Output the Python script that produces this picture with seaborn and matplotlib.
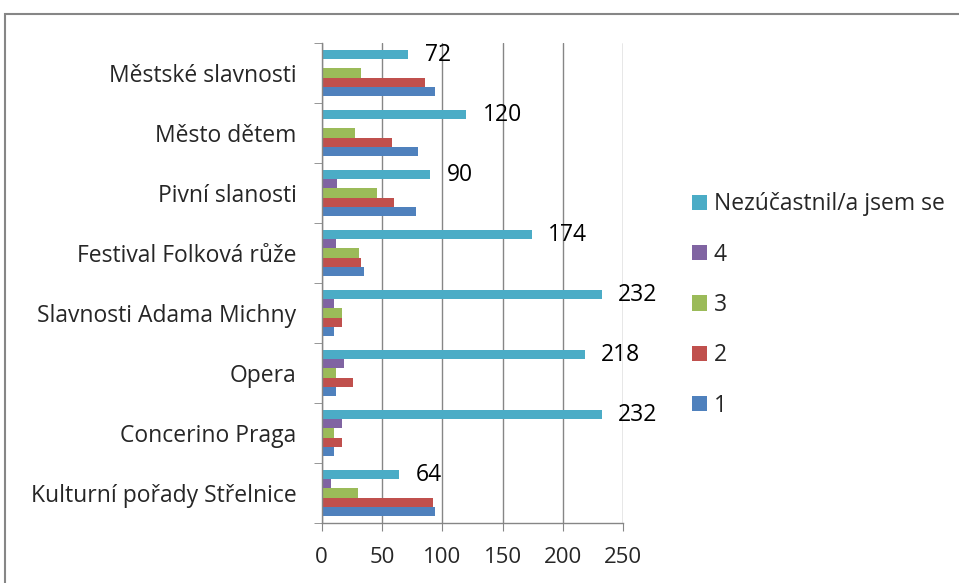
import matplotlib
matplotlib.use("Agg")
import matplotlib.pyplot as plt
import matplotlib.patches as mpatches
import seaborn as sns
import pandas as pd

# data
akce = ["Městské slavnosti", "Město dětem", "Pivní slanosti", "Festival Folková růže",
        "Slavnosti Adama Michny", "Opera", "Concerino Praga", "Kulturní pořady Střelnice"]
hodnoceni = ["Nezúčastnil/a jsem se", "4", "3", "2", "1"]
nezucastnil = [72, 120, 90, 174, 232, 218, 232, 64]
h4 = [1, 1, 13, 12, 10, 19, 17, 8]
h3 = [33, 28, 46, 31, 17, 12, 10, 30]
h2 = [86, 58, 60, 33, 17, 26, 17, 92]
h1 = [94, 80, 78, 35, 10, 12, 10, 94]
barvy = ["#4BACC6", "#8064A2", "#9BBB59", "#C0504D", "#4F81BD"]

rows = []
for serie, vals in zip(hodnoceni, [nezucastnil, h4, h3, h2, h1]):
    for a, v in zip(akce, vals):
        rows.append({"akce": a, "hodnoceni": serie, "pocet": v})
df = pd.DataFrame(rows)

sns.set_style("white")
plt.rcParams["font.family"] = ["Open Sans", "DejaVu Sans"]

W, H = 959, 583
fig = plt.figure(figsize=(W / 100, H / 100), dpi=100)
ax = fig.add_axes([321.5 / W, 1 - 523 / H, (623.3 - 321.5) / W, (523 - 43) / H])

sns.barplot(data=df, x="pocet", y="akce", hue="hodnoceni", order=akce,
            hue_order=hodnoceni, palette=barvy, orient="h", width=0.77,
            gap=0, saturation=1, edgecolor="none", ax=ax)

ax.bar_label(ax.containers[0], padding=12, fontsize=16.5, color="black")

ax.set_xlim(0, 250)
ax.set_ylim(7.5, -0.5)
ax.set_xticks([0, 50, 100, 150, 200, 250])
ax.set_xlabel("")
ax.set_ylabel("")
ax.grid(axis="x", color="#868686", linewidth=1)
ax.set_axisbelow(True)
for s in ["top", "right"]:
    ax.spines[s].set_visible(False)
for s in ["left", "bottom"]:
    ax.spines[s].set_color("#868686")
    ax.spines[s].set_linewidth(1)

ax.set_yticks([i - 0.5 for i in range(9)], minor=True)
ax.tick_params(axis="y", which="major", length=0, pad=18, labelsize=16.5)
ax.tick_params(axis="y", which="minor", length=6, color="#868686", direction="out", left=True)
ax.tick_params(axis="x", which="major", length=6, color="#868686", direction="out",
               bottom=True, pad=11, labelsize=16)

ax.legend(loc="center left", bbox_to_anchor=(683 / W, 1 - 305 / H), bbox_transform=fig.transFigure,
          frameon=False, fontsize=16.5, handlelength=0.65, handleheight=0.65,
          handletextpad=0.3, labelspacing=1.15, borderaxespad=0)

fig.patches.append(mpatches.Rectangle((5 / W, -0.05), 1.1, (1 - 14 / H) + 0.05,
                                      transform=fig.transFigure, fill=False,
                                      edgecolor="#868686", linewidth=1.5))

fig.savefig("out.png", dpi=100)
